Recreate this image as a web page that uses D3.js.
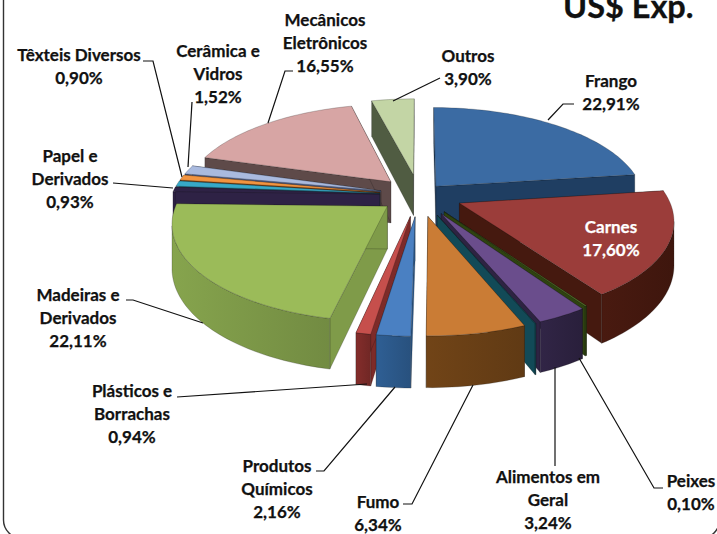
<!DOCTYPE html>
<html>
<head>
<meta charset="utf-8">
<script src="https://cdn.jsdelivr.net/npm/d3@7"></script>
<style>
  html, body { margin: 0; padding: 0; background: #fff; }
  svg { display: block; }
  text { font-family: Lato, "Open Sans", sans-serif; font-weight: 700; fill: #111; }
</style>
</head>
<body>
<div id="chart"></div>
<script>
// data (percent of exports)
// the two unnamed slices have no label in the picture, only their walls show
const categories = ["Frango", "Carnes", "Peixes", "Alimentos em Geral", "", "Fumo", "Produtos Químicos",
  "Plásticos e Borrachas", "Madeiras e Derivados", "", "Papel e Derivados", "Têxteis Diversos",
  "Cerâmica e Vidros", "Mecânicos Eletrônicos", "Outros"];
const shares = [22.91, 17.60, 0.10, 3.24, 0.05, 6.34, 2.16, 0.94, 22.11, 0.80, 0.93, 0.90, 1.52, 16.55, 3.90];
// how far each slice is pulled out of the pie, as a part of the radius
const explosion = [0.125, 0.21, 0.21, 0.22, 0.225, 0.225, 0.225, 0.225, 0.19, 0.19, 0.19, 0.19, 0.19, 0.2, 0.225];

const topColors = ["#3b6ba3", "#9b3d3a", "#5e7a2e", "#6a4d8c", "#1c5564", "#ca7c35", "#4a80c2", "#c64f4c",
  "#9bbb59", "#2e2245", "#37a9c8", "#f29440", "#a9badf", "#d7a5a4", "#c3d5a5"];
const sideColors = ["#1f3e62", "#45190f", "#2e4210", "#2e2342", "#124a57", "#6b4016", "#2d5a8c", "#7d2b29",
  "#7f9b49", "#2e2245", "#1d5a6c", "#7a4515", "#55638a", "#5e4a49", "#505c42"];

// label text + where it sits, leader = polyline from the label to the slice
const labelRows = [
  { lines: ["Frango", "22,91%"], x: 611, y: 87, leader: [[574, 104], [563, 104], [548, 120]] },
  { lines: ["Carnes", "17,60%"], x: 611, y: 233, color: "#fff" },
  { lines: ["Peixes", "0,10%"], x: 691, y: 487, leader: [[663, 488], [654, 488], [579, 358]] },
  { lines: ["Alimentos em", "Geral", "3,24%"], x: 548, y: 483, leader: [[555, 466], [555, 367]] },
  { lines: ["Fumo", "6,34%"], x: 378, y: 508, leader: [[403, 504], [412, 504], [473, 385]] },
  { lines: ["Produtos", "Químicos", "2,16%"], x: 277, y: 472, leader: [[316, 471], [324, 471], [395, 387]] },
  { lines: ["Plásticos e", "Borrachas", "0,94%"], x: 132, y: 397, leader: [[177, 397], [367, 384]] },
  { lines: ["Madeiras e", "Derivados", "22,11%"], x: 78, y: 301, leader: [[126, 300], [133, 300], [203, 323]] },
  { lines: ["Papel e", "Derivados", "0,93%"], x: 70, y: 162, leader: [[113, 183], [173, 188]] },
  { lines: ["Têxteis Diversos", "0,90%"], x: 79, y: 61, leader: [[143, 61], [153, 61], [182, 177]] },
  { lines: ["Cerâmica e", "Vidros", "1,52%"], x: 218, y: 57, leader: [[192, 102], [188, 167]] },
  { lines: ["Mecânicos", "Eletrônicos", "16,55%"], x: 325, y: 26, leader: [[293, 71], [285, 71], [268, 123]] },
  { lines: ["Outros", "3,90%"], x: 468, y: 62, leader: [[440, 78], [393, 101]] }
];

const width = 717, height = 534;
const center = { x: 419, y: 195 };
const radius = 208, tilt = 93.5, persp = 0.155, wallHeight = 42;

const svg = d3.select("#chart").append("svg").attr("width", width).attr("height", height);
const defs = svg.append("defs");

// chart frame, it runs past the picture on top, right and bottom
svg.append("rect")
  .attr("x", 3.5).attr("y", -30)
  .attr("width", 716).attr("height", 568)
  .attr("rx", 18).attr("ry", 18)
  .attr("fill", "none").attr("stroke", "#333").attr("stroke-width", 1.4);

const pie = d3.pie().sort(null).value(d => d);
const arcs = pie(shares);

// pie plane -> screen, with a little perspective
function project(px, py, z) {
  const s = 1 / (1 - py * persp);
  return [center.x + px * radius * s, center.y + py * tilt * s + z * wallHeight * s];
}

const line = d3.line();
const close = pts => line(pts) + "Z";

const slices = arcs.map((a, i) => {
  const mid = (a.startAngle + a.endAngle) / 2;
  const ox = Math.sin(mid) * explosion[i], oy = -Math.cos(mid) * explosion[i];
  const steps = d3.range(0, 1.0001, 1 / Math.max(2, Math.ceil((a.endAngle - a.startAngle) * 40)));
  const rim = steps.map(t => {
    const th = a.startAngle + t * (a.endAngle - a.startAngle);
    return [ox + Math.sin(th), oy - Math.cos(th)];
  });
  return { i, ox, oy, rim, depth: -Math.cos(mid) };
});

const faces = svg.append("g").attr("class", "pie");
const edge = "rgba(20,20,20,0.45)";

// rim walls get a soft left to right shade
function wallGradient(i) {
  const c = d3.color(sideColors[i]);
  const grad = defs.append("linearGradient").attr("id", "wall" + i);
  grad.append("stop").attr("offset", "0%").attr("stop-color", c.brighter(0.15));
  grad.append("stop").attr("offset", "100%").attr("stop-color", c.darker(0.3));
  return "url(#wall" + i + ")";
}

slices.slice().sort((a, b) => a.depth - b.depth).forEach(s => {
  const g = faces.append("g").attr("class", "slice");
  const p0 = [s.ox, s.oy];
  const first = s.rim[0], last = s.rim[s.rim.length - 1];
  const wall = (a, b) => close([project(a[0], a[1], 0), project(b[0], b[1], 0), project(b[0], b[1], 1), project(a[0], a[1], 1)]);

  // the two cut walls
  [first, last].forEach(q => {
    g.append("path").attr("d", wall(p0, q))
      .attr("fill", sideColors[s.i]).attr("stroke", edge).attr("stroke-width", 0.5);
  });

  // rim wall, only where it faces us
  const facing = s.rim.filter((q, k) => {
    const nb = s.rim[k + 1] || s.rim[k - 1];
    const dir = s.rim[k + 1] ? 1 : -1;
    return (project(nb[0], nb[1], 0)[0] - project(q[0], q[1], 0)[0]) * dir < 0;
  });
  if (facing.length > 1) {
    const topEdge = facing.map(q => project(q[0], q[1], 0));
    const botEdge = facing.map(q => project(q[0], q[1], 1)).reverse();
    g.append("path").attr("d", close(topEdge.concat(botEdge)))
      .attr("fill", wallGradient(s.i)).attr("stroke", edge).attr("stroke-width", 0.5);
  }

  // top face
  const topPts = [p0].concat(s.rim).map(q => project(q[0], q[1], 0));
  g.append("path").attr("d", close(topPts))
    .attr("fill", topColors[s.i]).attr("stroke", edge).attr("stroke-width", 0.5);
});

// leaders
svg.append("g").selectAll("path")
  .data(labelRows.filter(d => d.leader))
  .join("path")
  .attr("d", d => line(d.leader))
  .attr("fill", "none").attr("stroke", "#111").attr("stroke-width", 1.2);

// labels
const lineGap = 22.8;
const labelG = svg.append("g").selectAll("text").data(labelRows).join("text")
  .attr("text-anchor", "middle")
  .attr("font-size", 17)
  .attr("stroke", d => d.color || "#111")
  .attr("stroke-width", 0.25)
  .style("fill", d => d.color || "#111");
labelG.selectAll("tspan").data(d => d.lines.map((t, k) => ({ t, k, x: d.x, y: d.y })))
  .join("tspan")
  .attr("x", d => d.x).attr("y", d => d.y + d.k * lineGap)
  .text(d => d.t);

// title is cut by the top of the picture
svg.append("text").attr("x", 563).attr("y", 18).attr("font-size", 32.5)
  .attr("stroke", "#111").attr("stroke-width", 0.3).text("US$ Exp.");
</script>
</body>
</html>
